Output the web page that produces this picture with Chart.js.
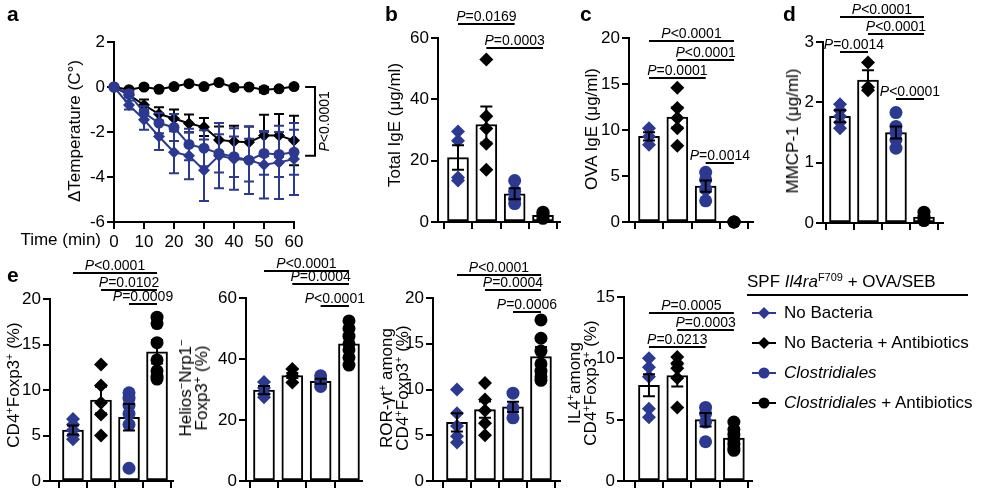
<!DOCTYPE html>
<html lang="en">
<head>
<meta charset="UTF-8">
<title>Chart Reproduction</title>
<script src="https://cdn.jsdelivr.net/npm/chart.js"></script>
<style>
  body { margin: 0; background: #fff; color: #000; font-family: "Liberation Sans", Arial, sans-serif; }
  #fig { position: relative; width: 990px; height: 493px; overflow: hidden; }
  #fig canvas { position: absolute; }
  .letter { position: absolute; font-size: 21px; font-weight: bold; line-height: 21px; }
  .ytitle { position: absolute; font-size: 17px; line-height: 16px; white-space: nowrap; text-align: center;
            transform: translate(-50%, -50%) rotate(-90deg); }
  sup { font-size: 11px; line-height: 0; vertical-align: 6px; }
  #legend { position: absolute; left: 747px; top: 272px; font-size: 17px; }
  #legend .title { border-bottom: 2px solid #000; padding-bottom: 2px; white-space: nowrap; width: 221px; }
  #legend .row { position: absolute; left: 5px; white-space: nowrap; display: flex; align-items: center; height: 20px; }
  #legend .row svg { margin-right: 8px; }
</style>
</head>
<body>
<div id="fig">
  <canvas id="pa"></canvas>
  <canvas id="pb"></canvas>
  <canvas id="pc"></canvas>
  <canvas id="pd"></canvas>
  <canvas id="pe1"></canvas>
  <canvas id="pe2"></canvas>
  <canvas id="pe3"></canvas>
  <canvas id="pe4"></canvas>

  <div class="letter" style="left:7px;top:3px">a</div>
  <div class="letter" style="left:385px;top:3px">b</div>
  <div class="letter" style="left:580px;top:3px">c</div>
  <div class="letter" style="left:783px;top:3px">d</div>
  <div class="letter" style="left:7px;top:264px">e</div>

  <div class="ytitle" style="left:75px;top:131px">ΔTemperature (C°)</div>
  <div class="ytitle" style="left:395px;top:125px">Total IgE (μg/ml)</div>
  <div class="ytitle" style="left:592px;top:129px">OVA IgE (μg/ml)</div>
  <div class="ytitle" style="left:793px;top:131px">MMCP-1 (μg/ml)</div>
  <div class="ytitle" style="left:14px;top:385px">CD4<sup>+</sup>Foxp3<sup>+</sup> (%)</div>
  <div class="ytitle" style="left:194px;top:388px">Helios<sup>−</sup>Nrp1<sup>−</sup><br>Foxp3<sup>+</sup> (%)</div>
  <div class="ytitle" style="left:395px;top:388px">ROR-γt<sup>+</sup> among<br>CD4<sup>+</sup>Foxp3<sup>+</sup> (%)</div>
  <div class="ytitle" style="left:583px;top:383px">IL4<sup>+</sup>among<br>CD4<sup>+</sup>Foxp3<sup>+</sup> (%)</div>

  <div id="legend"></div>
</div>

<script>
// ---- data ----
const groups = ['No Bacteria', 'No Bacteria + Antibiotics', 'Clostridiales', 'Clostridiales + Antibiotics'];

// panel a: change in temperature over time (mean, SEM)
const aTime = [0, 5, 10, 15, 20, 25, 30, 35, 40, 45, 50, 55, 60];
const aXTicks = [0, 10, 20, 30, 40, 50, 60];
const aYTicks = [-6, -4, -2, 0, 2];
const aNoBac = [0, -0.8, -1.45, -2.2, -2.9, -3.05, -3.7, -3.05, -3.2, -3.25, -3.45, -3.35, -3.2];
const aNoBacSem = [0, 0.2, 0.45, 0.6, 0.93, 1.05, 1.37, 1.45, 1.37, 1.5, 1.5, 1.63, 1.6];
const aNoBacAbx = [0, -0.35, -0.8, -1.2, -1.4, -1.62, -1.78, -2.35, -2.42, -2.45, -2.15, -2.15, -2.38];
const aNoBacAbxSem = [0, 0.1, 0.25, 0.3, 0.4, 0.4, 0.4, 0.6, 0.7, 0.7, 0.92, 0.95, 1.1];
const aClos = [0, -0.3, -1.15, -1.6, -1.8, -2.55, -2.72, -2.95, -3.1, -3.25, -2.95, -3.0, -2.9];
const aClosSem = [0, 0.15, 0.3, 0.45, 0.6, 0.7, 0.8, 0.85, 0.9, 0.95, 0.95, 1.0, 1.0];
const aClosAbx = [0, -0.12, 0, -0.1, 0.02, 0.15, 0.02, 0.2, -0.02, 0, -0.12, -0.08, 0.02];
const aClosAbxSem = [0, 0.08, 0.08, 0.08, 0.08, 0.08, 0.08, 0.08, 0.08, 0.08, 0.12, 0.08, 0.08];

// panel b: total IgE
const bYTicks = [0, 20, 40, 60];
const bMeans = [21.0, 31.8, 9.2, 2.2];
const bSem = [4.0, 5.9, 1.8, 0.4];
const bPoints = [[29.5, 26.5, 14.5, 13.5], [53, 34.5, 30.5, 25.5, 17], [13.5, 10, 7.5, 6], [3.2, 2.6, 2.0, 1.2]];
const bSig = [[1, 3, '=0.0169'], [2, 4, '=0.0003']];

// panel c: OVA IgE
const cYTicks = [0, 5, 10, 15, 20];
const cMeans = [9.3, 11.4, 3.9, 0];
const cSem = [0.45, 1.1, 0.6, 0];
const cPoints = [[10.2, 9.3, 8.4], [14.6, 12.4, 11.3, 10.2, 8.3], [5.4, 4.6, 3.6, 2.3], [0, 0, 0]];
const cSig = [[1, 4, '<0.0001'], [2, 4, '<0.0001'], [1, 3, '=0.0001'], [3, 4, '=0.0014']];

// panel d: MMCP-1
const dYTicks = [0, 1, 2, 3];
const dMeans = [1.77, 2.37, 1.5, 0.1];
const dSem = [0.1, 0.16, 0.1, 0.03];
const dPoints = [[1.97, 1.87, 1.77, 1.67, 1.57], [2.66, 2.25, 2.2], [1.83, 1.6, 1.5, 1.38, 1.24], [0.18, 0.12, 0.08, 0.04]];
const dSig = [[1, 4, '<0.0001'], [2, 4, '<0.0001'], [1, 2, '=0.0014'], [3, 4, '<0.0001']];

// panel e1: CD4+Foxp3+ (%)
const e1YTicks = [0, 5, 10, 15, 20];
const e1Means = [5.6, 8.9, 7.0, 14.2];
const e1Sem = [0.5, 1.45, 1.45, 1.3];
const e1Points = [[6.8, 6.2, 5.6, 5.0, 4.6], [12.8, 10.5, 8.6, 7.3, 5.0], [9.7, 9.1, 8.3, 7.4, 6.2, 1.4], [18.0, 17.3, 15.2, 13.3, 12.1, 11.5, 11.2]];
const e1Sig = [[1, 4, '<0.0001'], [2, 4, '=0.0102'], [3, 4, '=0.0009']];

// panel e2: Helios-Nrp1- Foxp3+ (%)
const e2YTicks = [0, 20, 40, 60];
const e2Means = [29.8, 34.6, 32.7, 45.0];
const e2Sem = [1.35, 0.8, 0.8, 2.0];
const e2Points = [[32.5, 30.5, 28.5, 27.5], [36.7, 34.5, 32.3], [34.5, 32.8, 31], [52.5, 50, 47.5, 45, 43, 40.5, 38]];
const e2Sig = [[1, 4, '<0.0001'], [2, 4, '=0.0004'], [3, 4, '<0.0001']];

// panel e3: ROR-gt+ among CD4+Foxp3+ (%)
const e3YTicks = [0, 5, 10, 15, 20];
const e3Means = [6.4, 7.8, 8.1, 13.6];
const e3Sem = [1.0, 0.9, 0.55, 1.05];
const e3Points = [[10.0, 7.4, 6.0, 4.9, 4.2], [10.7, 8.9, 7.7, 6.3, 5.0], [9.6, 8.0, 6.9], [17.6, 15.6, 14.2, 12.8, 12.0, 11.4, 11.0]];
const e3Sig = [[1, 4, '<0.0001'], [2, 4, '=0.0004'], [3, 4, '=0.0006']];

// panel e4: IL4+ among CD4+Foxp3+ (%)
const e4YTicks = [0, 5, 10, 15];
const e4Means = [7.8, 8.6, 5.0, 3.5];
const e4Sem = [0.9, 0.9, 0.55, 0.3];
const e4Points = [[10.0, 9.27, 8.5, 5.9, 5.2], [10.1, 9.6, 9.2, 8.4, 6.0], [6.0, 5.5, 4.8, 3.2], [4.8, 4.2, 3.8, 3.4, 3.0, 2.7, 2.5]];
const e4Sig = [[1, 4, '=0.0005'], [2, 4, '=0.0003'], [1, 3, '=0.0213']];

// ---- styles ----
const BLUE = '#2b3990';
const groupColor = [BLUE, '#000', BLUE, '#000'];
const groupShape = ['rectRot', 'rectRot', 'circle', 'circle'];
const FONT = '"Liberation Sans", Arial, sans-serif';

Chart.defaults.font.family = FONT;
Chart.defaults.font.size = 17;
Chart.defaults.color = '#000';
Chart.defaults.animation = false;

function drawP(ctx, rest, cx, baseY) {
  ctx.font = 'italic 14px ' + FONT;
  const wP = ctx.measureText('P').width;
  ctx.font = '14px ' + FONT;
  const wR = ctx.measureText(rest).width;
  const x = cx - (wP + wR) / 2;
  ctx.fillStyle = '#000';
  ctx.textAlign = 'left';
  ctx.textBaseline = 'alphabetic';
  ctx.font = 'italic 14px ' + FONT;
  ctx.fillText('P', x, baseY);
  ctx.font = '14px ' + FONT;
  ctx.fillText(rest, x + wP, baseY);
}

function axisStyle(extra) {
  return Object.assign({
    type: 'linear',
    grid: { display: true, drawOnChartArea: false, drawTicks: true, tickLength: 7, lineWidth: 2, color: '#000' },
    border: { display: true, color: '#000', width: 2 },
    ticks: { color: '#000', font: { size: 17 }, padding: 2 }
  }, extra);
}

function place(canvas, box, Wy, Hx, padT, padR) {
  canvas.width = Wy + (box.right - box.left) + padR;
  canvas.height = padT + (box.bottom - box.top) + Hx;
  canvas.style.left = (box.left - Wy) + 'px';
  canvas.style.top = (box.top - padT) + 'px';
}

function barPanel(id, p) {
  const Wy = 42, Hx = 20, padR = 34;
  const canvas = document.getElementById(id);
  const padT = p.box.top - p.canvasTop;
  place(canvas, p.box, Wy, Hx, padT, padR);

  const datasets = [];
  p.points.forEach((pts, i) => {
    datasets.push({
      type: 'scatter',
      data: pts.map(v => ({ x: i + 1, y: v })),
      pointStyle: groupShape[i],
      pointRadius: groupShape[i] === 'circle' ? 6.5 : 7,
      backgroundColor: groupColor[i],
      borderColor: groupColor[i],
      borderWidth: 0,
      order: 1,
      clip: false
    });
  });
  datasets.push({
    type: 'bar',
    data: p.means.map((m, i) => ({ x: i + 1, y: m })),
    backgroundColor: '#fff',
    borderColor: '#000',
    borderWidth: 2,
    borderSkipped: false,
    barThickness: 21,
    order: 2
  });

  const extras = {
    id: 'extras',
    afterDatasetsDraw(chart) {
      const ctx = chart.ctx, xs = chart.scales.x, ys = chart.scales.y;
      ctx.save();
      ctx.strokeStyle = '#000';
      ctx.lineWidth = 2;
      p.means.forEach((m, i) => {
        if (!p.sem[i]) return;
        const x = xs.getPixelForValue(i + 1);
        const y1 = ys.getPixelForValue(m + p.sem[i]);
        const y2 = ys.getPixelForValue(m - p.sem[i]);
        ctx.beginPath();
        ctx.moveTo(x, y1); ctx.lineTo(x, y2);
        ctx.moveTo(x - 6, y1); ctx.lineTo(x + 6, y1);
        ctx.moveTo(x - 6, y2); ctx.lineTo(x + 6, y2);
        ctx.stroke();
      });
      p.sig.forEach((s, k) => {
        const xa = xs.getPixelForValue(s[0]);
        const xb = xs.getPixelForValue(s[1]);
        const y = Math.round(ys.getPixelForValue(p.sigLevel[k]));
        ctx.beginPath();
        ctx.moveTo(xa, y); ctx.lineTo(xb, y);
        ctx.stroke();
        drawP(ctx, s[2], (xa + xb) / 2, y - 3);
      });
      ctx.restore();
    }
  };

  return new Chart(canvas, {
    type: 'bar',
    data: { datasets },
    options: {
      responsive: false,
      layout: { padding: { top: padT, right: padR, left: 0, bottom: 0 } },
      plugins: { legend: { display: false }, tooltip: { enabled: false } },
      scales: {
        x: axisStyle({
          min: p.box.xmin, max: p.box.xmax, offset: false,
          afterBuildTicks: ax => { ax.ticks = [1, 2, 3, 4].map(v => ({ value: v })); },
          ticks: { callback: () => '' },
          afterFit: ax => { ax.height = Hx; }
        }),
        y: axisStyle({
          min: p.yTicks[0], max: p.yTicks[p.yTicks.length - 1],
          afterBuildTicks: ax => { ax.ticks = p.yTicks.map(v => ({ value: v })); },
          afterFit: ax => { ax.width = Wy; }
        })
      }
    },
    plugins: [extras]
  });
}

// ---- panel a ----
(function () {
  const box = { left: 114, right: 294, top: 42, bottom: 222 };
  const Wy = 100, Hx = 30, padR = 50, padT = 42;
  const canvas = document.getElementById('pa');
  place(canvas, box, Wy, Hx, padT, padR);

  const series = [
    { vals: aClos, sem: aClosSem, color: BLUE, shape: 'circle' },
    { vals: aNoBac, sem: aNoBacSem, color: BLUE, shape: 'rectRot' },
    { vals: aNoBacAbx, sem: aNoBacAbxSem, color: '#000', shape: 'rectRot' },
    { vals: aClosAbx, sem: aClosAbxSem, color: '#000', shape: 'circle' }
  ];
  const datasets = series.map(s => ({
    data: aTime.map((t, i) => ({ x: t, y: s.vals[i] })),
    borderColor: s.color,
    backgroundColor: s.color,
    borderWidth: 2,
    pointStyle: s.shape,
    pointRadius: s.shape === 'circle' ? 5.5 : 6,
    pointBorderWidth: 0,
    clip: false
  }));

  const extras = {
    id: 'extrasA',
    afterDatasetDraw(chart, args) {
      const s = series[args.index];
      const ctx = chart.ctx, xs = chart.scales.x, ys = chart.scales.y;
      ctx.save();
      ctx.strokeStyle = s.color;
      ctx.lineWidth = 2;
      aTime.forEach((t, i) => {
        if (!s.sem[i]) return;
        const x = xs.getPixelForValue(t);
        const y1 = ys.getPixelForValue(s.vals[i] + s.sem[i]);
        const y2 = ys.getPixelForValue(s.vals[i] - s.sem[i]);
        ctx.beginPath();
        ctx.moveTo(x, y1); ctx.lineTo(x, y2);
        ctx.moveTo(x - 5, y1); ctx.lineTo(x + 5, y1);
        ctx.moveTo(x - 5, y2); ctx.lineTo(x + 5, y2);
        ctx.stroke();
      });
      ctx.restore();
    },
    afterDraw(chart) {
      const ctx = chart.ctx, xs = chart.scales.x, ys = chart.scales.y;
      ctx.save();
      // significance bracket between Clostridiales + Antibiotics and the others
      const xa = xs.getPixelForValue(63.7), xb = xs.getPixelForValue(67);
      const y0 = ys.getPixelForValue(0), y1 = ys.getPixelForValue(-3.05);
      ctx.strokeStyle = '#000';
      ctx.lineWidth = 2;
      ctx.beginPath();
      ctx.moveTo(xa, y0); ctx.lineTo(xb, y0); ctx.lineTo(xb, y1); ctx.lineTo(xa, y1);
      ctx.stroke();
      ctx.translate(xs.getPixelForValue(71.8), (y0 + y1) / 2);
      ctx.rotate(-Math.PI / 2);
      drawP(ctx, '<0.0001', 0, 0);
      ctx.restore();
      // x axis title sits left of the tick labels
      ctx.save();
      ctx.font = '17px ' + FONT;
      ctx.fillStyle = '#000';
      ctx.textAlign = 'right';
      ctx.textBaseline = 'top';
      ctx.fillText('Time (min)', chart.chartArea.left - 13, chart.chartArea.bottom + 10);
      ctx.restore();
    }
  };

  new Chart(canvas, {
    type: 'line',
    data: { datasets },
    options: {
      responsive: false,
      layout: { padding: { top: padT, right: padR, left: 0, bottom: 0 } },
      plugins: { legend: { display: false }, tooltip: { enabled: false } },
      scales: {
        x: axisStyle({
          min: 0, max: 60,
          afterBuildTicks: ax => { ax.ticks = aXTicks.map(v => ({ value: v })); },
          ticks: { color: '#000', font: { size: 17 }, padding: 3, maxRotation: 0, autoSkip: false },
          afterFit: ax => { ax.height = Hx; }
        }),
        y: axisStyle({
          min: -6, max: 2,
          afterBuildTicks: ax => { ax.ticks = aYTicks.map(v => ({ value: v })); },
          afterFit: ax => { ax.width = Wy; }
        })
      }
    },
    plugins: [extras]
  });
})();

// ---- bar panels ----
barPanel('pb', {
  box: { left: 438, right: 560, top: 38, bottom: 222, xmin: 0.294, xmax: 4.6 }, canvasTop: 0,
  yTicks: bYTicks, means: bMeans, sem: bSem, points: bPoints, sig: bSig, sigLevel: [64.6, 56.7]
});
barPanel('pc', {
  box: { left: 629, right: 753, top: 38, bottom: 222, xmin: 0.294, xmax: 4.67 }, canvasTop: 0,
  yTicks: cYTicks, means: cMeans, sem: cSem, points: cPoints, sig: cSig, sigLevel: [19.67, 17.6, 15.65, 6.41]
});
barPanel('pd', {
  box: { left: 823, right: 943, top: 42, bottom: 223, xmin: 0.393, xmax: 4.68 }, canvasTop: 0,
  yTicks: dYTicks, means: dMeans, sem: dSem, points: dPoints, sig: dSig, sigLevel: [3.41, 3.13, 2.83, 2.06]
});
barPanel('pe1', {
  box: { left: 50, right: 173, top: 299, bottom: 481, xmin: 0.18, xmax: 4.57 }, canvasTop: 250,
  yTicks: e1YTicks, means: e1Means, sem: e1Sem, points: e1Points, sig: e1Sig, sigLevel: [22.86, 20.99, 19.45]
});
barPanel('pe2', {
  box: { left: 246, right: 362, top: 298, bottom: 481, xmin: 0.365, xmax: 4.46 }, canvasTop: 250,
  yTicks: e2YTicks, means: e2Means, sem: e2Sem, points: e2Points, sig: e2Sig, sigLevel: [68.85, 64.6, 57.4]
});
barPanel('pe3', {
  box: { left: 433, right: 560, top: 298, bottom: 481, xmin: 0.143, xmax: 4.68 }, canvasTop: 250,
  yTicks: e3YTicks, means: e3Means, sem: e3Sem, points: e3Points, sig: e3Sig, sigLevel: [22.5, 20.87, 18.47]
});
barPanel('pe4', {
  box: { left: 624, right: 752, top: 297, bottom: 481, xmin: 0.118, xmax: 4.64 }, canvasTop: 250,
  yTicks: e4YTicks, means: e4Means, sem: e4Sem, points: e4Points, sig: e4Sig, sigLevel: [13.69, 12.31, 10.92]
});

// ---- legend ----
(function () {
  const legend = document.getElementById('legend');
  legend.innerHTML = '<div class="title">SPF <i>Il4ra</i><sup>F709</sup> + OVA/SEB</div>';
  const names = ['No Bacteria', 'No Bacteria + Antibiotics', '<i>Clostridiales</i>', '<i>Clostridiales</i> + Antibiotics'];
  groups.forEach((g, i) => {
    const c = groupColor[i];
    const mark = groupShape[i] === 'circle'
      ? `<circle cx="12" cy="7" r="5.5" fill="${c}"/>`
      : `<path d="M12 1 L18 7 L12 13 L6 7 Z" fill="${c}"/>`;
    const row = document.createElement('div');
    row.className = 'row';
    row.style.top = (31 + i * 30) + 'px';
    row.innerHTML = `<svg width="24" height="14"><line x1="0" y1="7" x2="24" y2="7" stroke="${c}" stroke-width="2"/>${mark}</svg><span>${names[i]}</span>`;
    legend.appendChild(row);
  });
})();
</script>
</body>
</html>
